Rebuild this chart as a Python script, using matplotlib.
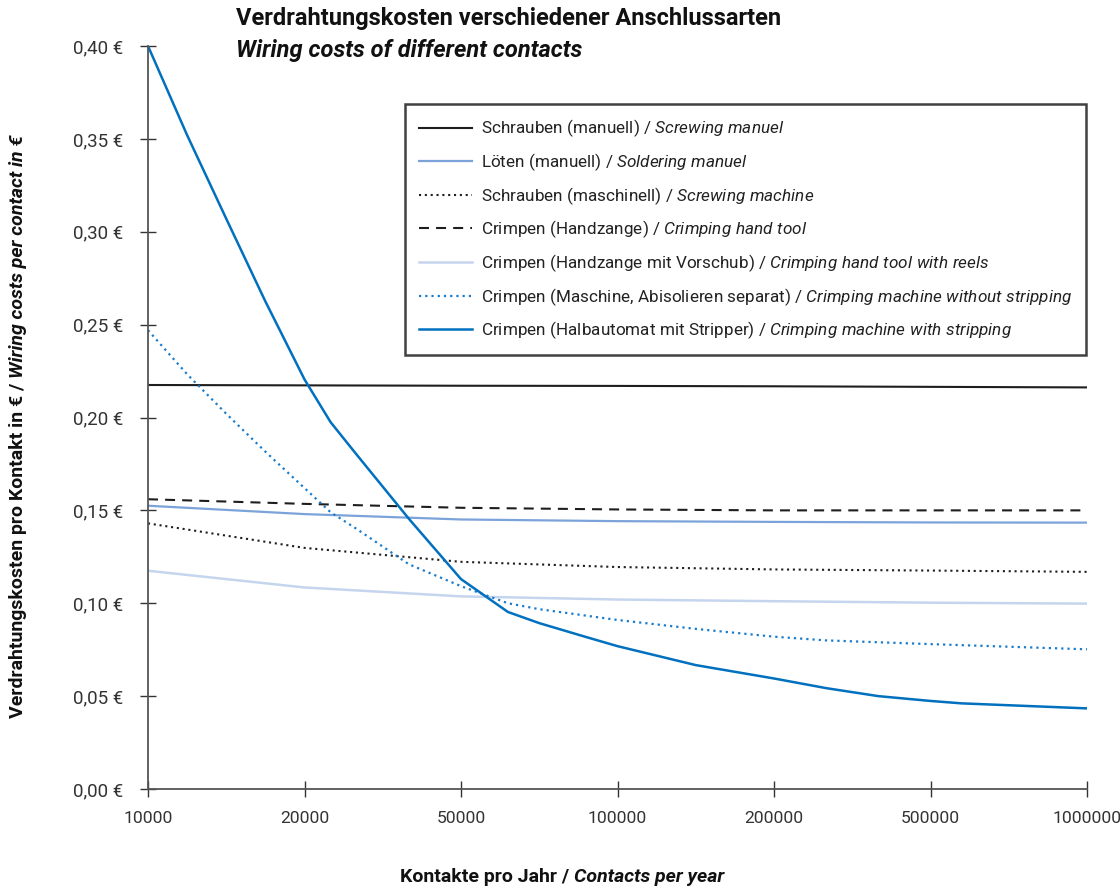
import matplotlib
matplotlib.use("Agg")
import matplotlib.pyplot as plt
import numpy as np
from matplotlib.ticker import FuncFormatter, FixedLocator

FONT = ["Roboto", "DejaVu Sans"]
plt.rcParams['font.family'] = FONT
plt.rcParams['mathtext.fontset'] = 'custom'
plt.rcParams['mathtext.rm'] = 'Roboto'
plt.rcParams['mathtext.it'] = 'Roboto:italic'
plt.rcParams['mathtext.bf'] = 'Roboto:bold'

# ---- data ----
x_ticks = [10000, 20000, 50000, 100000, 200000, 500000, 1000000]
x_tick_labels = ["10000", "20000", "50000", "100000", "200000", "500000", "1000000"]
y_ticks = [0.0, 0.05, 0.10, 0.15, 0.20, 0.25, 0.30, 0.35, 0.40]

x_basic = [10000, 20000, 50000, 100000, 200000, 500000, 1000000]
schrauben_manuell = [0.2175, 0.2173, 0.2171, 0.2170, 0.2168, 0.2165, 0.2162]
loeten_manuell = [0.1525, 0.1480, 0.1451, 0.1442, 0.1438, 0.1435, 0.1434]
schrauben_maschinell = [0.1430, 0.1298, 0.1223, 0.1195, 0.1182, 0.1176, 0.1169]
crimpen_handzange = [0.1560, 0.1535, 0.1514, 0.1505, 0.1500, 0.1500, 0.1500]
crimpen_vorschub = [0.1175, 0.1085, 0.1037, 0.1020, 0.1011, 0.1003, 0.0998]

x_maschine = [10000, 12500, 15000, 17500, 20000, 25000, 30000, 40000, 50000,
              65000, 75000, 100000, 150000, 200000, 300000, 500000, 1000000]
crimpen_maschine = [0.2470, 0.2233, 0.2020, 0.1816, 0.1620, 0.1490, 0.1400, 0.1210, 0.1092,
                    0.1000, 0.0968, 0.0910, 0.0862, 0.0820, 0.0800, 0.0780, 0.0752]

x_halbautomat = [10000, 12500, 15000, 17500, 20000, 25000, 30000, 40000, 50000,
                 65000, 75000, 90000, 100000, 150000, 200000, 300000, 400000, 500000,
                 600000, 1000000]
crimpen_halbautomat = [0.4000, 0.3520, 0.3070, 0.2625, 0.2205, 0.1975, 0.1800, 0.1455, 0.1130,
                       0.0953, 0.0893, 0.0818, 0.0769, 0.0667, 0.0595, 0.0543, 0.0500, 0.0474,
                       0.0461, 0.0434]

labels_de = ["Schrauben (manuell) / ", "Löten (manuell) / ", "Schrauben (maschinell) / ",
             "Crimpen (Handzange) / ", "Crimpen (Handzange mit Vorschub) / ",
             "Crimpen (Maschine, Abisolieren separat) / ",
             "Crimpen (Halbautomat mit Stripper) / "]
labels_en = ["Screwing manuel", "Soldering manuel", "Screwing machine", "Crimping hand tool",
             "Crimping hand tool with reels", "Crimping machine without stripping",
             "Crimping machine with stripping"]

# ---- figure ----
fig = plt.figure(figsize=(11.2, 8.89), dpi=100)
ax = fig.add_axes([148/1120, 1-789/889, (1087-148)/1120, (789-46)/889])

pos = np.arange(len(x_ticks), dtype=float)
def fwd(v):
    return np.interp(v, x_ticks, pos)
def inv(p):
    return np.interp(p, pos, x_ticks)
ax.set_xscale('function', functions=(fwd, inv))

def lab(i):
    en = labels_en[i].replace(" ", r"\ ")
    return labels_de[i] + r"$\mathit{" + en + "}$"

c_black = "#1e1e1e"
c_mid = "#7ca3d9"
c_light = "#c6d5ee"
c_blue = "#0070bf"
c_bdot = "#1a7ccc"

ax.plot(x_basic, schrauben_manuell, color=c_black, lw=1.5, label=lab(0))
ax.plot(x_basic, loeten_manuell, color=c_mid, lw=1.6, label=lab(1))
ax.plot(x_basic, schrauben_maschinell, color=c_black, lw=1.5, ls=(0, (1, 1.8)), label=lab(2))
ax.plot(x_basic, crimpen_handzange, color=c_black, lw=1.5, ls=(0, (4.8, 3.4)), label=lab(3))
ax.plot(x_basic, crimpen_vorschub, color=c_light, lw=1.8, label=lab(4))
ax.plot(x_maschine, crimpen_maschine, color=c_bdot, lw=1.6, ls=(0, (1, 1.8)), label=lab(5))
ax.plot(x_halbautomat, crimpen_halbautomat, color=c_blue, lw=1.8, label=lab(6))

ax.set_xlim(10000, 1000000)
ax.set_ylim(0, 0.40)
ax.xaxis.set_major_locator(FixedLocator(x_ticks))
ax.xaxis.set_minor_locator(FixedLocator([]))
ax.set_xticklabels(x_tick_labels)
ax.yaxis.set_major_locator(FixedLocator(y_ticks))
ax.yaxis.set_major_formatter(FuncFormatter(lambda v, p: f"{v:.2f}".replace(".", ",") + " €"))

for s in ["top", "right"]:
    ax.spines[s].set_visible(False)
for s in ["left", "bottom"]:
    ax.spines[s].set_color("#555555")
    ax.spines[s].set_linewidth(1.3)
ax.tick_params(axis='both', direction='inout', length=12, width=1.0, color="#333333",
               labelcolor="#333333")
ax.tick_params(axis='x', pad=10, labelsize=12.6)
ax.tick_params(axis='y', pad=12, labelsize=13.5)

leg = ax.legend(loc='upper left', bbox_to_anchor=(405/1120, 1-104/889),
                bbox_transform=fig.transFigure, borderaxespad=0, fancybox=False,
                frameon=True, fontsize=12.3, handlelength=3.15, handletextpad=0.5,
                labelspacing=0.7, borderpad=0.8)
leg.get_frame().set_edgecolor("#111111")
leg.get_frame().set_linewidth(1.8)
for t in leg.get_texts():
    t.set_color("#222222")

# title
fig.text(236/1120, 1-18/889, "Verdrahtungskosten verschiedener Anschlussarten",
         fontsize=17, fontweight='bold', ha='left', va='center', color="#111111")
fig.text(236/1120, 1-50/889, "Wiring costs of different contacts",
         fontsize=17, fontweight='bold', fontstyle='italic', ha='left', va='center', color="#111111")

# x label (bold + bold italic)
xl1 = fig.text(400/1120, 1-877/889, "Kontakte pro Jahr / ", fontsize=14, fontweight='bold',
               ha='left', va='center', color="#111111")
ax.annotate("Contacts per year", xy=(1, 0), xycoords=xl1, ha='left', va='bottom',
            fontsize=14, fontweight='bold', fontstyle='italic', color="#111111")

# y label
yl1 = fig.text(18/1120, 1-718/889, "Verdrahtungskosten pro Kontakt in € / ", fontsize=14,
               fontweight='bold', rotation=90, ha='center', va='bottom', color="#111111")
ax.annotate("Wiring costs per contact in €", xy=(0.5, 1), xycoords=yl1, ha='center',
            va='bottom', rotation=90, fontsize=14, fontweight='bold', fontstyle='italic',
            color="#111111")

fig.savefig("out.png", dpi=100)
